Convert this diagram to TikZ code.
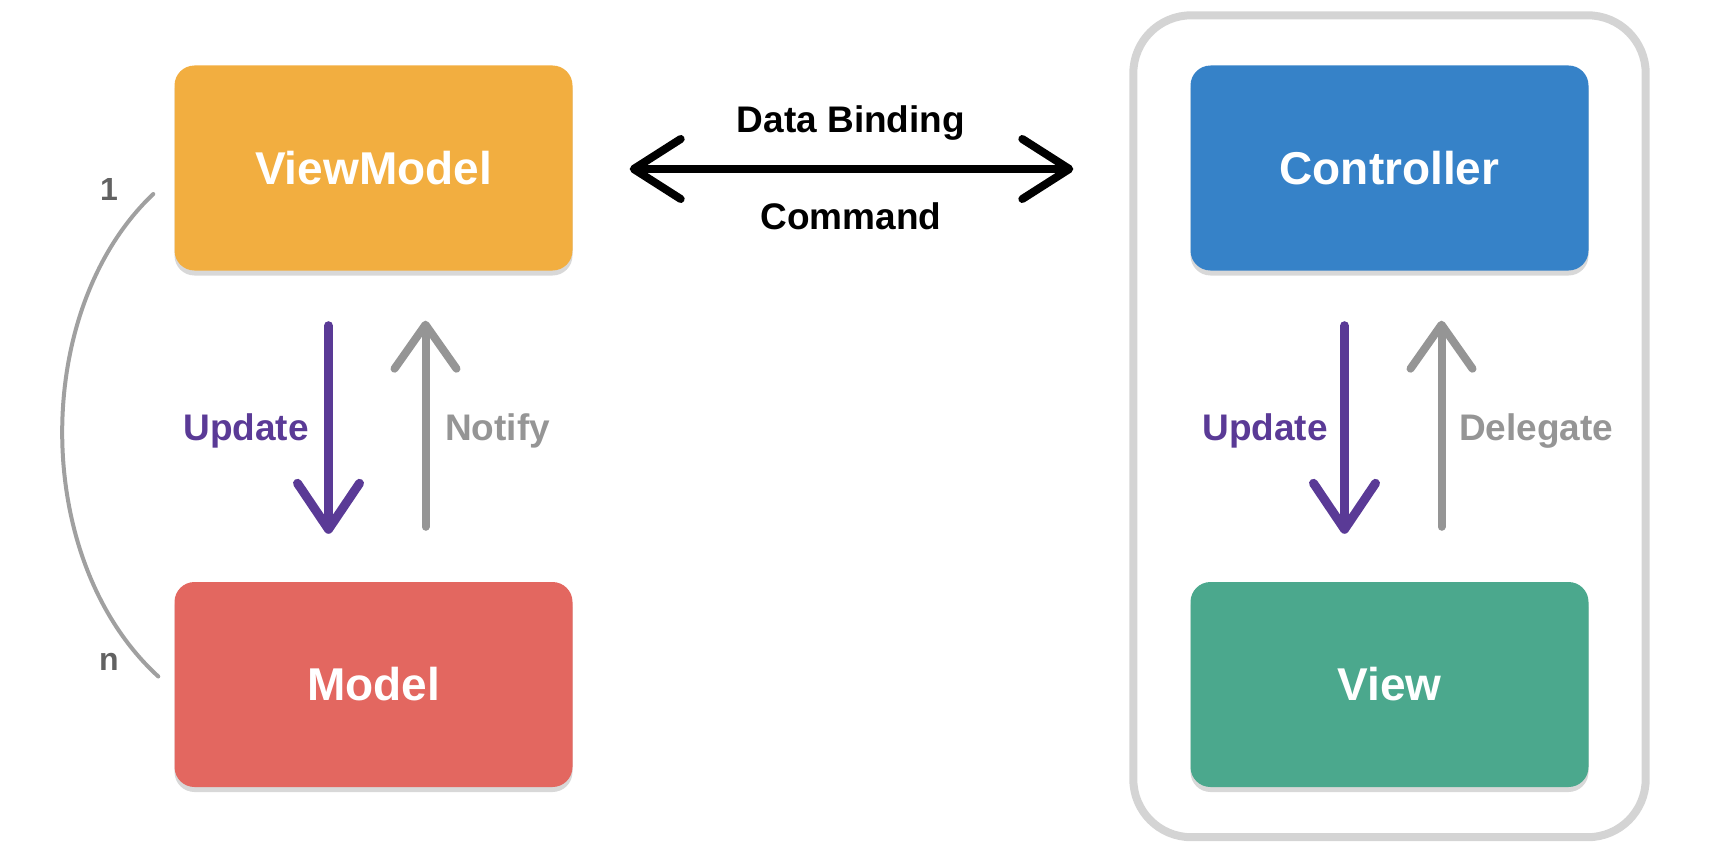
\documentclass[tikz,border=0pt]{standalone}
\usepackage{fontspec}
\setmainfont{Liberation Sans}
\usetikzlibrary{arrows.meta,calc,fit,shadows}
\definecolor{vmorange}{HTML}{F2AE40}
\definecolor{mred}{HTML}{E36760}
\definecolor{cblue}{HTML}{3682C8}
\definecolor{vgreen}{HTML}{4BA88D}
\definecolor{upurple}{HTML}{5A3A96}
\definecolor{ngrey}{HTML}{959595}
\definecolor{cgrey}{HTML}{D4D4D4}
\definecolor{lgrey}{HTML}{626262}
\begin{document}
\begin{tikzpicture}[x=1pt,y=-1pt,
  box/.style={rounded corners=20pt, minimum width=398pt, minimum height=205pt, inner sep=0pt,
    text=white, font=\fontsize{46}{50}\selectfont\bfseries,
    drop shadow={shadow xshift=0pt, shadow yshift=-5pt, opacity=0.22, fill=black!70}},
  lab/.style={font=\fontsize{37}{40}\selectfont\bfseries, inner sep=0pt},
  numlab/.style={font=\fontsize{32}{36}\selectfont\bfseries, text=lgrey, inner sep=0pt},
  container/.style={draw=cgrey, line width=8pt, rounded corners=58pt},
  uparrow/.style={draw=ngrey, line width=8pt, line cap=round,
    -{Straight Barb[length=44pt,width=62pt,round]}},
  downarrow/.style={draw=upurple, line width=9pt, line cap=round,
    -{Straight Barb[length=46pt,width=62pt,round]}},
  bindarrow/.style={draw=black, line width=8pt, line cap=round,
    {Straight Barb[length=47pt,width=60pt,round]}-{Straight Barb[length=47pt,width=60pt,round]}},
  relline/.style={draw=ngrey!90, line width=4pt, line cap=round}
]
\useasboundingbox (0,0) rectangle (1710,856);

% boxes
\node[box, fill=vmorange] (vm) at (373.5,168) {ViewModel};
\node[box, fill=mred] (m) at (373.5,684.5) {Model};
\node[box, fill=cblue] (ctrl) at (1389.5,168) {Controller};
\node[box, fill=vgreen] (view) at (1389.5,684.5) {View};

% container
\node[container, fit=(ctrl)(view), inner xsep=57pt, inner ysep=50pt] (cont) {};

% left arrows
\draw[downarrow] ($(vm.south)+(-45,55)$) -- ($(m.north)+(-45,-48)$);
\draw[uparrow] ($(m.north)+(52,-55)$) -- ($(vm.south)+(52,50)$);
\node[lab, text=upurple, anchor=east] (upl) at (309,431) {Update};
\node[lab, text=ngrey, anchor=west] (notify) at (445,431) {Notify};

% right arrows
\draw[downarrow] ($(ctrl.south)+(-45,55)$) -- ($(view.north)+(-45,-48)$);
\draw[uparrow] ($(view.north)+(52,-55)$) -- ($(ctrl.south)+(52,50)$);
\node[lab, text=upurple, anchor=east] (upr) at (1328,431) {Update};
\node[lab, text=ngrey, anchor=west] (deleg) at (1459,431) {Delegate};

% binding arrow
\coordinate (bl) at ($(vm.east)+(57,1)$);
\coordinate (br) at ($(ctrl.west)+(-117,1)$);
\draw[bindarrow] (bl) -- (br);
\node[lab, text=black] (db) at (851,123) {Data Binding};
\node[lab, text=black] (cmd) at (851,216) {Command};

% 1..n relation
\coordinate (rt) at ($(vm.west)+(-21,26)$);
\coordinate (rb) at ($(m.west)+(-16,-8)$);
\draw[relline] (rt) .. controls (31,310) and (31,560) .. (rb);
\node[numlab] (one) at (109,189) {1};
\node[numlab] (nn) at (109,662) {n};
\end{tikzpicture}
\end{document}
